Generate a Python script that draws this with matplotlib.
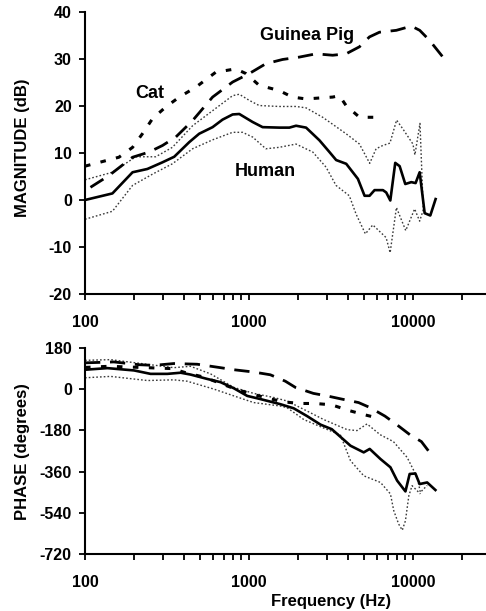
import matplotlib
matplotlib.use("Agg")
import matplotlib.pyplot as plt
from matplotlib.ticker import FixedLocator, FixedFormatter, NullFormatter

plt.rcParams['font.family'] = ['Liberation Sans', 'DejaVu Sans']
plt.rcParams['font.weight'] = 'bold'
plt.rcParams['lines.scale_dashes'] = False

# ---- Magnitude (dB) ----
human_f = [100, 147, 195, 240, 296, 350, 432, 497, 600, 690, 795, 873, 1052, 1211, 1531, 1764,
           1937, 2230, 2690, 3097, 3402, 3919, 4617, 5070, 5436, 5833, 6561, 6873, 7278, 7800,
           8297, 8980, 9770, 10380, 10990, 11790, 12760, 13750]
human_mag = [0, 1.4, 5.9, 6.6, 8.0, 9.2, 12.3, 14.1, 15.5, 17.1, 18.2, 18.3, 16.6, 15.5, 15.4, 15.4,
             15.8, 15.4, 12.7, 10.2, 8.5, 7.7, 4.5, 0.9, 0.9, 2.1, 2.1, 1.6, -0.1, 7.9,
             7.2, 3.4, 3.8, 3.6, 5.9, -2.8, -3.3, 0.2]

hi_mag_f = [100, 147, 204, 270, 341, 453, 600, 795, 873, 1004, 1154, 1525, 1937, 2230, 2816,
            3910, 4720, 5450, 5960, 6550, 7240, 7950, 8690, 10000, 10280, 11040, 11560]
hi_mag = [4.3, 5.9, 9.2, 9.2, 11.2, 15.8, 19.0, 22.2, 22.5, 21.2, 20.1, 19.9, 19.9, 19.6, 17.6,
          14.1, 11.9, 7.8, 10.9, 11.6, 12.1, 17.0, 15.1, 11.9, 9.6, 16.3, -2.1]

lo_mag_f = [100, 147, 195, 258, 341, 453, 600, 795, 914, 1052, 1268, 1525, 1937, 2450, 2950,
            3397, 4093, 4500, 5128, 5690, 6860, 7260, 7930, 9040, 10240, 10990, 11560]
lo_mag = [-4.1, -2.4, 3.1, 5.5, 7.7, 10.9, 12.8, 14.4, 14.4, 13.4, 10.9, 11.2, 11.9, 10.2, 7.0,
          3.1, 0.9, -3.0, -7.2, -5.3, -8.0, -11.2, -1.6, -6.5, -1.9, -4.5, -2.1]

cat_f = [100, 161, 195, 224, 258, 311, 376, 474, 628, 832, 958, 1154, 1525, 1839, 2230, 3240,
         3560, 3910, 4720, 6110]
cat_mag = [7.2, 9.1, 11.2, 14.1, 17.3, 19.8, 21.9, 24.0, 27.2, 27.9, 26.9, 24.4, 23.3, 21.9, 21.5,
           21.9, 22.2, 20.1, 17.6, 17.6]

gp_f = [108, 140, 195, 246, 297, 358, 453, 600, 795, 1004, 1268, 1604, 2025, 2560, 3240, 3910,
        4720, 5430, 6250, 7920, 9790, 11000, 12600, 15240]
gp_mag = [2.7, 5.2, 9.1, 10.2, 11.6, 13.4, 16.9, 21.9, 25.1, 26.9, 29.0, 29.9, 30.4, 31.1, 30.8,
          31.1, 32.6, 34.7, 35.7, 36.1, 37.0, 36.1, 34.0, 30.4]

# ---- Phase (degrees) ----
human_ph_f = [100, 137, 199, 251, 318, 383, 440, 556, 670, 810, 976, 1177, 1553, 1874, 2262,
              2730, 3200, 4160, 5010, 5450, 6340, 7290, 8010, 9000, 9550, 10350, 10990, 12210, 13710]
human_ph = [84, 91, 81, 66, 66, 71, 63, 44, 30, 3, -30, -44, -66, -84, -118,
            -155, -175, -247, -276, -261, -305, -341, -399, -446, -370, -368, -414, -407, -440]

hi_ph_f = [100, 143, 348, 440, 583, 809, 1068, 1418, 1705, 2262, 2855, 3970, 4560, 5250, 6310,
           7600, 9220, 10620, 11100, 12210]
hi_ph = [125, 128, 93, 99, 66, 7, -19, -37, -52, -96, -133, -177, -181, -152, -199,
         -229, -298, -385, -450, -420]

lo_ph_f = [100, 143, 240, 348, 420, 609, 809, 1068, 1553, 1705, 2160, 2855, 3610, 4160, 5010,
           6340, 7290, 7640, 8180, 8610, 9000, 9440, 9880, 11100]
lo_ph = [49, 55, 37, 40, 34, 0, -30, -59, -74, -81, -133, -170, -200, -312, -378,
         -407, -457, -530, -588, -615, -574, -465, -421, -457]

cat_ph_f = [100, 140, 200, 340, 420, 531, 825, 1044, 1320, 1625, 2060, 2540, 3200, 4040, 4990, 6250]
cat_ph = [94, 99, 95, 89, 69, 52, 0, -22, -41, -56, -63, -63, -69, -93, -111, -128]

gp_ph_f = [100, 150, 213, 263, 348, 483, 670, 809, 1068, 1350, 1667, 1920, 2470, 2990, 3690,
           4660, 5480, 6750, 7960, 9580, 11260, 12450]
gp_ph = [114, 118, 106, 103, 111, 108, 93, 84, 74, 62, 34, 7, -19, -30, -44,
         -59, -81, -118, -155, -199, -229, -270]

x_ticks = [100, 1000, 10000]
x_labels = ['100', '1000', '10000']
mag_ticks = [-20, -10, 0, 10, 20, 30, 40]
ph_ticks = [-720, -540, -360, -180, 0, 180]

W, H = 486, 611
fig = plt.figure(figsize=(W / 100, H / 100), dpi=100)


def axes_px(left, top, right, bottom):
    return fig.add_axes([left / W, 1 - bottom / H, (right - left) / W, (bottom - top) / H])


ax1 = axes_px(85, 12, 486, 294)
ax2 = axes_px(85, 347.7, 486, 554.3)

band = dict(color='#3a3a3a', lw=1.0, linestyle=(0, (1.2, 1.5)))
solid = dict(color='black', lw=1.9)
cat = dict(color='black', lw=2.2, linestyle=(0, (4, 7.5)))
gp = dict(color='black', lw=2.0, linestyle=(0, (11, 7)))

ax1.plot(hi_mag_f, hi_mag, **band)
ax1.plot(lo_mag_f, lo_mag, **band)
ax1.plot(cat_f, cat_mag, **cat)
ax1.plot(gp_f, gp_mag, **gp)
ax1.plot(human_f, human_mag, **solid)

ax2.plot(hi_ph_f, hi_ph, **band)
ax2.plot(lo_ph_f, lo_ph, **band)
ax2.plot(cat_ph_f, cat_ph, **cat)
ax2.plot(gp_ph_f, gp_ph, **gp)
ax2.plot(human_ph_f, human_ph, **solid)

ax1.text(2260, 35.1, 'Guinea Pig', fontsize=13, fontweight='bold', ha='center', va='center')
ax1.text(249, 22.6, 'Cat', fontsize=13, fontweight='bold', ha='center', va='center')
ax1.text(1253, 6.0, 'Human', fontsize=13, fontweight='bold', ha='center', va='center')

for ax, yt, ylim in [(ax1, mag_ticks, (-20, 40)), (ax2, ph_ticks, (-720, 180))]:
    ax.set_xscale('log')
    ax.set_xlim(100, 27900)
    ax.set_ylim(*ylim)
    ax.xaxis.set_major_locator(FixedLocator(x_ticks))
    ax.xaxis.set_major_formatter(FixedFormatter(x_labels))
    minors = [m * d for d in (100, 1000) for m in range(2, 10)] + [20000]
    ax.xaxis.set_minor_locator(FixedLocator(minors))
    ax.xaxis.set_minor_formatter(NullFormatter())
    ax.set_yticks(yt)
    ax.set_yticklabels([str(v) for v in yt])
    for s in ('top', 'right'):
        ax.spines[s].set_visible(False)
    for s in ('left', 'bottom'):
        ax.spines[s].set_linewidth(1.5)
    ax.tick_params(axis='x', which='both', direction='out', length=4, width=1.3, pad=11,
                   labelsize=11.5)
    ax.tick_params(axis='y', which='major', direction='out', length=4.5, width=1.3, pad=5,
                   labelsize=11.5)
    for lab in ax.get_xticklabels() + ax.get_yticklabels():
        lab.set_fontweight('bold')

fig.text(23 / W, 1 - 147.5 / H, 'MAGNITUDE (dB)', rotation=90, ha='center', va='center',
         fontsize=12, fontweight='bold')
fig.text(23 / W, 1 - 451.5 / H, 'PHASE (degrees)', rotation=90, ha='center', va='center',
         fontsize=12, fontweight='bold')
fig.text(331.5 / W, 1 - 601.7 / H, 'Frequency (Hz)', ha='center', va='center',
         fontsize=12, fontweight='bold')

fig.savefig('out.png', dpi=100)
